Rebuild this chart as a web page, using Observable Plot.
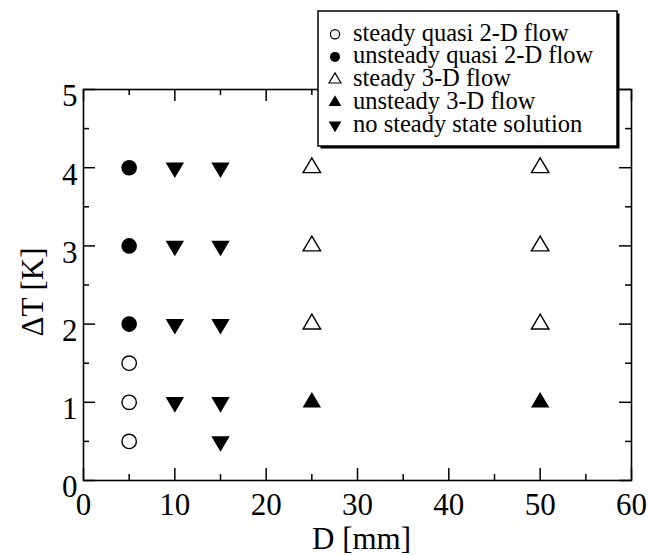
<!DOCTYPE html>
<html><head><meta charset="utf-8">
<script src="https://cdn.jsdelivr.net/npm/d3@7"></script>
<script src="https://cdn.jsdelivr.net/npm/@observablehq/plot@0.6"></script>
<style>
html,body{margin:0;padding:0;background:#fff;}
#wrap{position:relative;width:662px;height:555px;overflow:hidden;}
#wrap svg{display:block;}
#legend{position:absolute;left:0;top:0;pointer-events:none;}
</style></head><body><div id="wrap"></div>
<script>
// ---- data (D in mm, ΔT in K) ----
const categories = ["steady quasi 2-D flow", "unsteady quasi 2-D flow", "steady 3-D flow", "unsteady 3-D flow", "no steady state solution"];
const steadyQuasi2D = [[5, 0.5], [5, 1], [5, 1.5]];
const unsteadyQuasi2D = [[5, 2], [5, 3], [5, 4]];
const steady3D = [[25, 2], [25, 3], [25, 4], [50, 2], [50, 3], [50, 4]];
const unsteady3D = [[25, 1], [50, 1]];
const noSteadyState = [[10, 1], [10, 2], [10, 3], [10, 4], [15, 0.5], [15, 1], [15, 2], [15, 3], [15, 4]];
const xTicks = [0, 10, 20, 30, 40, 50, 60];
const xMinorTicks = [5, 15, 25, 35, 45, 55];
const yTicks = [0, 1, 2, 3, 4, 5];
const yMinorTicks = [0.5, 1.5, 2.5, 3.5, 4.5];
const xLabel = "D [mm]";
const yLabel = "ΔT [K]";

// ---- custom symbols (triangles centred on centroid) ----
const triUp = {draw(ctx, size) {
  const r = Math.sqrt(size / Math.PI), h = 1.95 * r, w = 2.3 * r;
  ctx.moveTo(0, -2 * h / 3); ctx.lineTo(w / 2, h / 3); ctx.lineTo(-w / 2, h / 3); ctx.closePath();
}};
const triDown = {draw(ctx, size) {
  const r = Math.sqrt(size / Math.PI), h = 1.95 * r, w = 2.3 * r;
  ctx.moveTo(0, 2 * h / 3); ctx.lineTo(w / 2, -h / 3); ctx.lineTo(-w / 2, -h / 3); ctx.closePath();
}};

const W = 662, H = 555, ML = 83, MR = 31, MT = 89, MB = 75;
const PW = W - ML - MR, PH = H - MT - MB;
const FONT = "'Liberation Serif', 'Times New Roman', serif";
const px = d => d[0], py = d => d[1];

const chart = Plot.plot({
  width: W, height: H,
  marginLeft: ML, marginRight: MR, marginTop: MT, marginBottom: MB,
  style: {fontFamily: FONT, fontSize: "31px", color: "#000", background: "#fff"},
  x: {domain: [0, 60]},
  y: {domain: [0, 5]},
  marks: [
    Plot.tickX(xTicks, {x: d => d, insetTop: PH - 12, stroke: "#000", strokeWidth: 1.5}),
    Plot.tickX(xTicks, {x: d => d, insetBottom: PH - 12, stroke: "#000", strokeWidth: 1.5}),
    Plot.tickX(xMinorTicks, {x: d => d, insetTop: PH - 6, stroke: "#000", strokeWidth: 1.5}),
    Plot.tickX(xMinorTicks, {x: d => d, insetBottom: PH - 6, stroke: "#000", strokeWidth: 1.5}),
    Plot.tickY(yTicks, {y: d => d, insetRight: PW - 12, stroke: "#000", strokeWidth: 1.5}),
    Plot.tickY(yTicks, {y: d => d, insetLeft: PW - 12, stroke: "#000", strokeWidth: 1.5}),
    Plot.tickY(yMinorTicks, {y: d => d, insetRight: PW - 6, stroke: "#000", strokeWidth: 1.5}),
    Plot.tickY(yMinorTicks, {y: d => d, insetLeft: PW - 6, stroke: "#000", strokeWidth: 1.5}),
    Plot.frame({stroke: "#000", strokeWidth: 1.6}),
    Plot.axisX({ticks: xTicks, tickSize: 0, tickPadding: 12, fontSize: 31, label: null, tickFormat: d => String(d)}),
    Plot.axisY({ticks: yTicks, tickSize: 0, tickPadding: 6, fontSize: 31, dy: 7, label: null, tickFormat: d => String(d)}),
    Plot.text([xLabel], {frameAnchor: "bottom", text: d => d, textAnchor: "middle", lineAnchor: "bottom", dy: 68, dx: 4, fontSize: 31}),
    Plot.text([yLabel], {frameAnchor: "left", text: d => d, textAnchor: "middle", rotate: -90, dx: -50, dy: 7, fontSize: 31}),
    Plot.dot(steadyQuasi2D, {x: px, y: py, r: 7.2, fill: "none", stroke: "#000", strokeWidth: 1.4}),
    Plot.dot(unsteadyQuasi2D, {x: px, y: py, r: 7.8, fill: "#000", stroke: "none"}),
    Plot.dot(steady3D, {x: px, y: py, symbol: triUp, r: 7.6, fill: "none", stroke: "#000", strokeWidth: 1.4}),
    Plot.dot(unsteady3D, {x: px, y: py, symbol: triUp, r: 8, fill: "#000", stroke: "none"}),
    Plot.dot(noSteadyState, {x: px, y: py, symbol: triDown, r: 8, fill: "#000", stroke: "none"})
  ]
});
const wrap = document.getElementById("wrap");
wrap.appendChild(chart);

// ---- legend overlay (box overlapping the plot, as in the reference) ----
const leg = d3.select(wrap).append("svg").attr("id", "legend")
  .attr("width", W).attr("height", H).style("font-family", FONT);
const bx = 318, by = 11, bw = 299, bh = 135;
leg.append("rect").attr("x", bx + 2.5).attr("y", by + 2.5).attr("width", bw).attr("height", bh).attr("fill", "#000");
leg.append("rect").attr("x", bx).attr("y", by).attr("width", bw).attr("height", bh)
  .attr("fill", "#fff").attr("stroke", "#000").attr("stroke-width", 1.5);
const legSymbols = [
  {type: d3.symbolCircle, r: 4.6, fill: "none"},
  {type: d3.symbolCircle, r: 5, fill: "#000"},
  {type: triUp, r: 5.2, fill: "none"},
  {type: triUp, r: 5.5, fill: "#000"},
  {type: triDown, r: 5.5, fill: "#000"}
];
categories.forEach((c, i) => {
  const base = 40.7 + i * 22.7;
  const s = legSymbols[i];
  leg.append("path")
    .attr("d", d3.symbol().type(s.type).size(Math.PI * s.r * s.r)())
    .attr("transform", `translate(335,${base - 6.5})`)
    .attr("fill", s.fill).attr("stroke", s.fill === "none" ? "#000" : "none").attr("stroke-width", 1.2);
  leg.append("text").attr("x", 353).attr("y", base).attr("font-size", 24.5).attr("fill", "#000").text(c);
});
</script></body></html>
